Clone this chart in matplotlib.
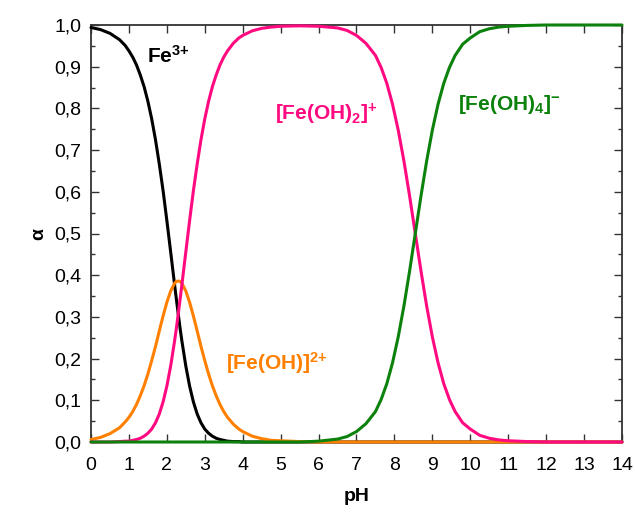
import matplotlib
matplotlib.use('Agg')
import numpy as np
from matplotlib import pyplot as plt
from matplotlib.ticker import MultipleLocator

# pH grid and species fractions
ph = [0, 0.25, 0.5, 0.75, 0.9, 1.0, 1.1, 1.2, 1.3, 1.4,
      1.5, 1.6, 1.7, 1.8, 1.9, 2.0, 2.1, 2.2, 2.25, 2.3,
      2.35, 2.4, 2.5, 2.6, 2.7, 2.8, 2.9, 3.0, 3.1, 3.2,
      3.3, 3.4, 3.5, 3.6, 3.75, 3.9, 4.0, 4.25, 4.5, 4.75,
      5.0, 5.5, 6.0, 6.5, 6.75, 7.0, 7.25, 7.5, 7.65, 7.8,
      7.95, 8.1, 8.25, 8.4, 8.55, 8.7, 8.85, 9.0, 9.15, 9.3,
      9.45, 9.6, 9.8, 10.0, 10.25, 10.5, 10.75, 11.0, 11.5, 12.0,
      13.0, 14.0]

fe3 = [0.994, 0.989, 0.980, 0.965, 0.951, 0.938, 0.923, 0.904, 0.880, 0.852,
       0.817, 0.775, 0.725, 0.667, 0.603, 0.531, 0.456, 0.380, 0.343, 0.307,
       0.272, 0.240, 0.182, 0.134, 0.096, 0.067, 0.046, 0.031, 0.021, 0.014,
       0.009, 0.006, 0.004, 0.002, 0.001, 0.001, 0, 0, 0, 0,
       0, 0, 0, 0, 0, 0, 0, 0, 0, 0,
       0, 0, 0, 0, 0, 0, 0, 0, 0, 0,
       0, 0, 0, 0, 0, 0, 0, 0, 0, 0,
       0, 0]

fe_oh = [0.006, 0.011, 0.020, 0.034, 0.048, 0.059, 0.073, 0.090, 0.111, 0.135,
         0.163, 0.195, 0.229, 0.266, 0.302, 0.335, 0.362, 0.380, 0.385, 0.386,
         0.385, 0.380, 0.362, 0.335, 0.302, 0.266, 0.229, 0.195, 0.163, 0.135,
         0.111, 0.090, 0.073, 0.059, 0.043, 0.031, 0.025, 0.014, 0.008, 0.004,
         0.003, 0.001, 0, 0, 0, 0, 0, 0, 0, 0,
         0, 0, 0, 0, 0, 0, 0, 0, 0, 0,
         0, 0, 0, 0, 0, 0, 0, 0, 0, 0,
         0, 0]

fe_oh2 = [0, 0, 0, 0.001, 0.002, 0.002, 0.004, 0.006, 0.009, 0.014,
          0.021, 0.031, 0.046, 0.067, 0.096, 0.134, 0.182, 0.240, 0.272, 0.307,
          0.343, 0.380, 0.456, 0.531, 0.603, 0.667, 0.725, 0.775, 0.817, 0.852,
          0.880, 0.904, 0.923, 0.938, 0.956, 0.969, 0.975, 0.986, 0.992, 0.995,
          0.997, 0.998, 0.997, 0.993, 0.987, 0.975, 0.956, 0.927, 0.898, 0.860,
          0.810, 0.748, 0.674, 0.590, 0.500, 0.410, 0.326, 0.252, 0.190, 0.140,
          0.102, 0.073, 0.046, 0.031, 0.016, 0.009, 0.005, 0.003, 0.001, 0,
          0, 0]

fe_oh4 = [0, 0, 0, 0, 0, 0, 0, 0, 0, 0,
          0, 0, 0, 0, 0, 0, 0, 0, 0, 0,
          0, 0, 0, 0, 0, 0, 0, 0, 0, 0,
          0, 0, 0, 0, 0, 0, 0, 0, 0, 0,
          0, 0, 0.002, 0.007, 0.013, 0.025, 0.044, 0.073, 0.102, 0.140,
          0.190, 0.252, 0.326, 0.410, 0.500, 0.590, 0.674, 0.748, 0.810, 0.860,
          0.898, 0.927, 0.954, 0.969, 0.984, 0.991, 0.995, 0.997, 0.999, 1.0,
          1.0, 1.0]

x_ticks = list(range(0, 15))
y_ticks = [0.0, 0.1, 0.2, 0.3, 0.4, 0.5, 0.6, 0.7, 0.8, 0.9, 1.0]
y_tick_labels = ['0,0', '0,1', '0,2', '0,3', '0,4', '0,5', '0,6', '0,7', '0,8', '0,9', '1,0']

# colours
c_black = 'black'
c_orange = '#ff8000'
c_pink = '#ff0a80'
c_green = '#0c820c'

plt.rcParams['font.family'] = ['Liberation Sans', 'DejaVu Sans']
plt.rcParams['mathtext.fontset'] = 'custom'
plt.rcParams['mathtext.rm'] = 'Liberation Sans'
plt.rcParams['mathtext.bf'] = 'Liberation Sans:bold'
plt.rcParams['mathtext.default'] = 'bf'

fig = plt.figure(figsize=(6.35, 5.12), dpi=100)
ax = fig.add_axes([91/635, 1 - 442/512, (622 - 91)/635, (442 - 25)/512])

lw = 2.2
for ys, col in [(fe3, c_black), (fe_oh, c_orange), (fe_oh2, c_pink), (fe_oh4, c_green)]:
    ax.plot(ph, ys, color=col, lw=lw, clip_on=False, zorder=3,
            solid_joinstyle='round', solid_capstyle='round')

ax.set_xlim(0, 14)
ax.set_ylim(0, 1.0)
ax.set_xticks(x_ticks)
ax.set_yticks(y_ticks)
ax.set_yticklabels(y_tick_labels)
ax.yaxis.set_minor_locator(MultipleLocator(0.05))
ax.tick_params(which='both', direction='in', top=True, right=True, labelsize=14, width=1.0, color='#333333')
ax.tick_params(which='major', length=6)
ax.tick_params(which='minor', length=3)
ax.tick_params(axis='x', pad=11)
ax.tick_params(axis='y', pad=7)
for s in ax.spines.values():
    s.set_linewidth(1.3)
    s.set_color('#333333')

ax.set_xlabel('pH', fontsize=14, fontweight='bold', labelpad=10)
ax.set_ylabel('α', fontsize=14, fontweight='bold', labelpad=5)

fs = 15
ax.text(1.47, 0.909, r'$Fe^{3{+}}$', color=c_black, fontsize=fs, va='baseline', ha='left')
ax.text(4.85, 0.772, r'$[Fe(OH)_2]^{{+}}$', color=c_pink, fontsize=fs, va='baseline', ha='left')
ax.text(9.68, 0.796, r'$[Fe(OH)_4]^{{-}}$', color=c_green, fontsize=fs, va='baseline', ha='left')
ax.text(3.55, 0.173, r'$[Fe(OH)]^{2{+}}$', color=c_orange, fontsize=fs, va='baseline', ha='left')

fig.savefig('out.png', dpi=100)
